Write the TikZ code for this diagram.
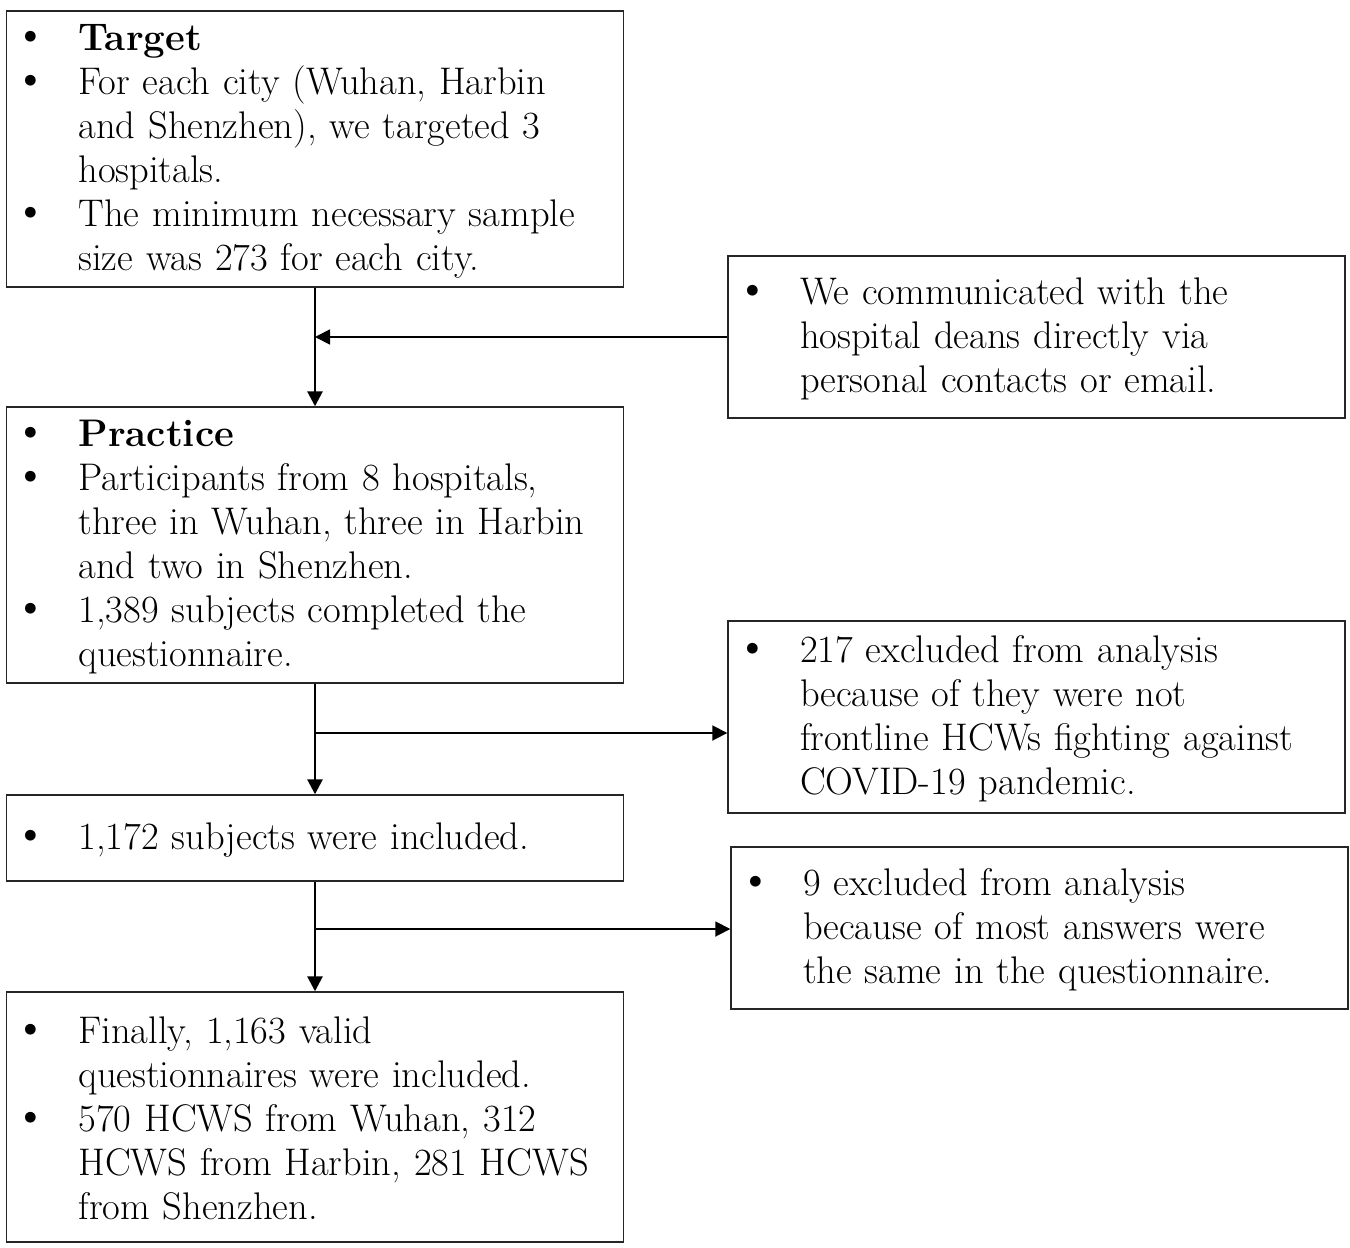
\documentclass[tikz,border=0pt]{standalone}
\usepackage{graphicx}
\usetikzlibrary{arrows.meta}
\newcommand\bl[1]{\par\noindent\makebox[56pt][l]{\hspace*{-9pt}\raisebox{0.05ex}{\scalebox{1.25}{\textbullet}}}#1}
\newcommand\cl[1]{\par\noindent\hspace*{56pt}#1}
\newcommand\lift{\vspace*{-14pt}}
\begin{document}
\begin{tikzpicture}[x=1pt,y=-1pt,
  box/.style={draw=black!85, line width=1.4pt, rectangle, inner xsep=16pt, inner ysep=0pt,
    align=left, anchor=center, font=\fontsize{38.5}{44}\selectfont},
  lbox/.style={box, minimum width=614pt, text width=585pt},
  rbox/.style={box, minimum width=613pt, text width=585pt},
  vflow/.style={line width=2.8pt, -{Triangle[length=15pt,width=15pt]}},
  hflow/.style={line width=1.8pt, -{Triangle[length=15pt,width=15pt]}}]
\useasboundingbox (0,0) rectangle (1350,1248);
\fill[white] (0,0) rectangle (1350,1248);

\node[lbox, minimum height=276pt] (b1) at (315,149) {\lift
\bl{\textbf{Target}}
\bl{For each city (Wuhan, Harbin}
\cl{and Shenzhen), we targeted 3}
\cl{hospitals.}
\bl{The minimum necessary sample}
\cl{size was 273 for each city.}};

\node[rbox, minimum height=162pt] (b2) at (1036.5,337) {\lift
\bl{We communicated with the}
\cl{hospital deans directly via}
\cl{personal contacts or email.}};

\node[lbox, minimum height=276pt] (b3) at (315,545) {\lift
\bl{\textbf{Practice}}
\bl{Participants from 8 hospitals,}
\cl{three in Wuhan, three in Harbin}
\cl{and two in Shenzhen.}
\bl{1,389 subjects completed the}
\cl{questionnaire.}};

\node[rbox, minimum height=192pt] (b4) at (1036.5,717) {\lift
\bl{217 excluded from analysis}
\cl{because of they were not}
\cl{frontline HCWs fighting against}
\cl{COVID-19 pandemic.}};

\node[lbox, minimum height=86pt] (b5) at (315,838) {\lift
\bl{1,172 subjects were included.}};

\node[rbox, minimum height=162pt] (b6) at (1039.5,928) {\lift
\bl{9 excluded from analysis}
\cl{because of most answers were}
\cl{the same in the questionnaire.}};

\node[lbox, minimum height=250pt] (b7) at (315,1117) {\lift
\bl{Finally, 1,163 valid}
\cl{questionnaires were included.}
\bl{570 HCWS from Wuhan, 312}
\cl{HCWS from Harbin, 281 HCWS}
\cl{from Shenzhen.}};

\coordinate (c1) at (315,733);
\coordinate (c2) at (315,929);

\draw[vflow] (b1.south) -- (b3.north);
\draw[hflow] (b2.west) -- (b2.west -| b1.south);
\draw[vflow] (b3.south) -- (b5.north);
\draw[hflow] (c1) -- (c1 -| b4.west);
\draw[vflow] (b5.south) -- (b7.north);
\draw[hflow] (c2) -- (c2 -| b6.west);
\end{tikzpicture}
\end{document}
